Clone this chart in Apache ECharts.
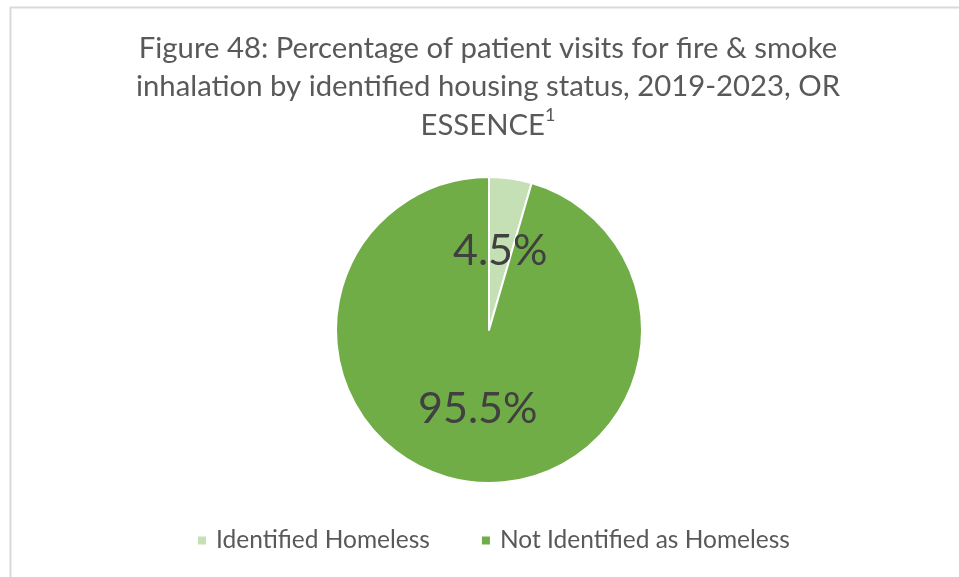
<!DOCTYPE html>
<html>
<head>
<meta charset="utf-8">
<script src="https://cdn.jsdelivr.net/npm/echarts@6/dist/echarts.min.js"></script>
<style>
  html, body { margin: 0; padding: 0; background: #ffffff; }
  #chart { width: 959px; height: 577px; }
</style>
</head>
<body>
<div id="chart"></div>
<script>
// Housing status categories and their share of fire & smoke inhalation visits (%)
const categories = ['Identified Homeless', 'Not Identified as Homeless'];
const shares = [4.5, 95.5];
const sliceColors = ['#c5e0b4', '#70ad47'];

const titleText = 'Figure 48: Percentage of patient visits for fire & smoke\ninhalation by identified housing status, 2019-2023, OR\nESSENCE{sup|1}';

const chart = echarts.init(document.getElementById('chart'), null, { renderer: 'canvas' });

chart.setOption({
  backgroundColor: '#ffffff',
  color: sliceColors,
  animation: false,
  graphic: [{
    type: 'rect',
    left: 8, top: 5,
    shape: { width: 1000, height: 620 },
    style: { fill: 'none', stroke: '#d9d9d9', lineWidth: 2 },
    silent: true
  }],
  title: {
    text: titleText,
    left: 483,
    textAlign: 'center',
    top: 24,
    textStyle: {
      fontFamily: 'Lato',
      fontWeight: 'normal',
      fontSize: 29.3,
      color: '#595959',
      lineHeight: 38.5,
      rich: {
        sup: { fontFamily: 'Lato', fontSize: 18, color: '#595959', verticalAlign: 'top', lineHeight: 38.5, padding: [0, 0, 12, 0] }
      }
    }
  },
  legend: {
    data: categories,
    top: 523,
    left: 191,
    icon: 'rect',
    itemWidth: 10,
    itemHeight: 10,
    itemGap: 50,
    textStyle: { fontFamily: 'Lato', fontSize: 24.5, color: '#595959', padding: [0, 0, 0, 4] }
  },
  series: [{
    type: 'pie',
    center: [489, 330],
    radius: 153,
    startAngle: 90,
    clockwise: true,
    data: categories.map((name, i) => ({ name: name, value: shares[i] })),
    itemStyle: { borderColor: '#ffffff', borderWidth: 2 },
    label: {
      show: true,
      position: 'inside',
      formatter: (p) => p.value.toFixed(1) + '%',
      fontFamily: 'Lato',
      fontSize: 43,
      color: '#404040'
    },
    labelLine: { show: false },
    emphasis: { disabled: true }
  }]
});
</script>
</body>
</html>
